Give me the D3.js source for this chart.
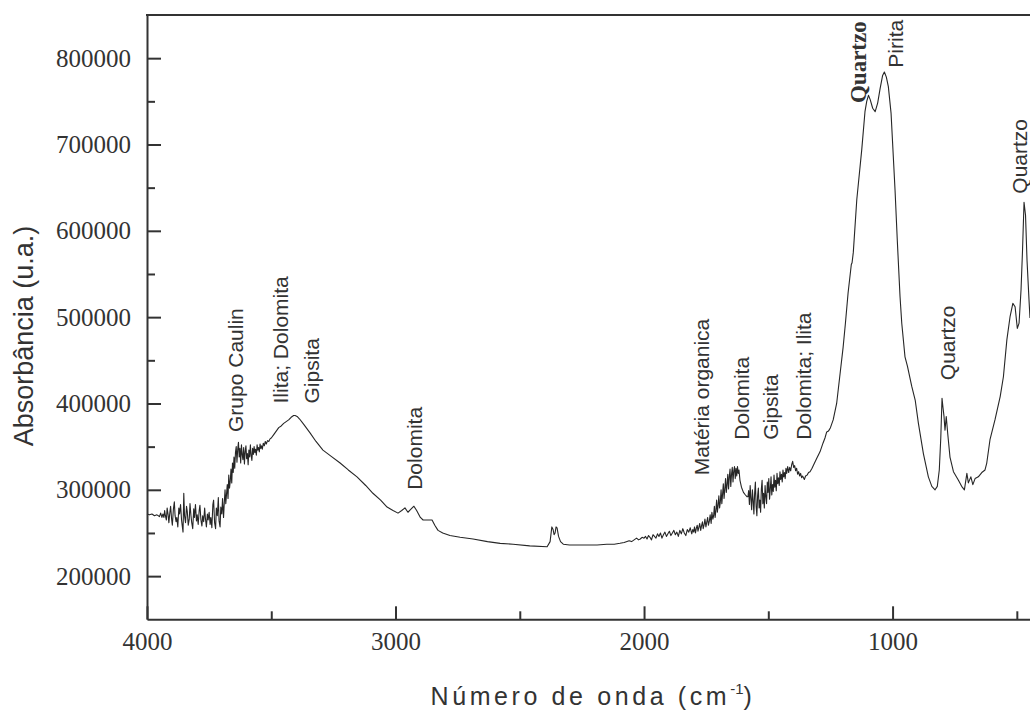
<!DOCTYPE html>
<html><head><meta charset="utf-8">
<script src="https://cdn.jsdelivr.net/npm/d3@7"></script>
<style>body{margin:0;background:#fff} svg{display:block}</style>
</head><body><svg id="c" width="1030" height="711"></svg>
<script>
// Spectrum segments: [wavenumber (cm-1), absorbance (thousands u.a.)]
const segBaseline = [[4000,272],[3990,271],[3980,272],[3970,270],[3960,271],[3950,269],[3945,273],[3940,268],[3936,272],[3932,268],[3929,276],[3926,270],[3922,265],[3919,279],[3915,271],[3912,262],[3908,274],[3905,281],[3901,266],[3898,259],[3894,277],[3890,286],[3887,270],[3883,263],[3880,268],[3876,257],[3872,279],[3869,272],[3865,283],[3861,265],[3858,258],[3855,251],[3852,296],[3849,270],[3845,262],[3841,281],[3838,275],[3834,259],[3830,266],[3827,284],[3823,270],[3820,262],[3816,255],[3812,278],[3809,268],[3805,283],[3801,264],[3798,271],[3794,260],[3790,276],[3787,282],[3783,265],[3779,258],[3776,270],[3772,263],[3768,279],[3765,267],[3761,257],[3757,272],[3754,265],[3750,274],[3746,260],[3743,268],[3739,256],[3735,283],[3732,288],[3728,262],[3724,255],[3721,279],[3717,270],[3713,291],[3710,264],[3706,257],[3703,280]];
const segHydroxyl = [[3699,272],[3696,290],[3692,268],[3689,285],[3686,300],[3683,284],[3680,295],[3677,306],[3674,290],[3671,317],[3668,302],[3665,310],[3662,324],[3659,308],[3656,331],[3653,320],[3650,338],[3647,325],[3644,343],[3641,350],[3638,332],[3635,347],[3632,355],[3629,338],[3626,348],[3623,331],[3620,352],[3617,341],[3614,335],[3611,349],[3608,330],[3605,344],[3602,351],[3599,336],[3596,342],[3593,329],[3590,346],[3587,338],[3584,352],[3581,340],[3578,334],[3575,348],[3572,341],[3569,350],[3566,343],[3563,347],[3560,340],[3557,352],[3554,346],[3551,349],[3548,344],[3545,353],[3542,348],[3539,351],[3536,347],[3532,354],[3528,351],[3524,356],[3520,353],[3515,357],[3510,356],[3505,359],[3500,360],[3490,364],[3480,368],[3470,372],[3460,374],[3450,377],[3440,379],[3430,381],[3420,384],[3410,386],[3404,386],[3396,385],[3386,382]];
const segDescent = [[3370,376],[3344,366],[3320,356],[3292,346],[3260,339],[3223,331],[3190,323],[3155,315],[3120,305],[3091,296],[3060,288],[3034,280],[3010,276],[2990,273],[2975,276],[2962,279],[2950,274],[2940,277],[2926,281],[2915,276],[2900,268],[2889,265],[2870,265],[2853,265],[2842,259],[2829,253],[2810,250],[2781,247],[2740,245],[2688,243],[2630,240],[2579,238],[2527,237],[2460,235],[2390,234]];
const segCO2 = [[2378,240],[2371,257],[2366,254],[2362,248],[2358,250],[2354,257],[2350,256],[2344,246],[2336,240],[2325,237],[2300,236],[2278,236],[2240,236],[2189,236],[2150,237],[2120,237],[2097,238],[2080,239],[2060,241],[2050,240],[2040,242],[2030,244],[2022,242],[2015,243],[2008,245],[2000,244],[1994,246],[1988,243],[1982,247],[1976,245],[1970,242],[1964,248],[1958,246],[1952,244],[1946,249],[1940,246],[1934,250],[1928,244],[1922,248],[1916,251],[1910,246],[1904,249],[1898,252],[1892,247],[1886,250],[1880,253],[1874,248],[1868,251],[1862,246],[1856,253],[1850,249],[1844,255],[1838,250],[1832,247],[1826,254],[1820,251],[1814,256],[1808,249]];
const segOrganic = [[1804,254],[1800,251],[1797,257],[1793,250],[1790,255],[1786,259],[1783,252],[1779,257],[1776,261],[1772,253],[1769,258],[1765,263],[1762,255],[1758,260],[1755,266],[1751,257],[1748,262],[1744,268],[1741,259],[1737,264],[1734,271],[1730,261],[1727,274],[1723,266],[1720,270],[1717,281],[1714,268],[1711,276],[1708,288],[1705,274],[1702,282],[1699,293],[1696,279],[1693,286],[1690,300],[1687,284],[1684,295],[1681,307],[1678,290],[1675,301],[1672,313],[1669,297],[1666,306],[1663,318],[1660,301],[1657,315],[1654,324],[1651,304],[1648,318],[1645,326],[1642,309],[1639,322],[1636,327],[1633,313],[1630,325],[1627,316],[1624,327],[1621,319],[1618,323],[1614,311],[1608,303],[1600,297],[1592,294],[1586,292]];
const segCarbonate = [[1582,292],[1579,299],[1576,283],[1573,305],[1570,290],[1567,277],[1564,300],[1561,288],[1558,272],[1555,296],[1552,309],[1549,281],[1546,270],[1543,293],[1540,302],[1537,279],[1534,288],[1531,274],[1528,301],[1525,311],[1522,284],[1519,296],[1516,279],[1513,305],[1510,292],[1507,284],[1504,309],[1501,297],[1498,313],[1495,289],[1492,301],[1489,315],[1486,294],[1483,306],[1480,298],[1477,317],[1474,303],[1471,311],[1468,299],[1465,319],[1462,307],[1459,314],[1456,305],[1453,321],[1450,312],[1447,318],[1444,309],[1441,323],[1438,315],[1435,320],[1432,313],[1429,325],[1426,319],[1422,327],[1418,320],[1414,326],[1410,322],[1406,329],[1402,333],[1398,326],[1394,328],[1390,322],[1386,325],[1382,318],[1378,321],[1374,316],[1370,319],[1366,314],[1362,316],[1355,312],[1350,316],[1344,317],[1338,320],[1332,321],[1324,325],[1316,330],[1304,337],[1292,344],[1280,354],[1272,360],[1265,367],[1258,368],[1250,372],[1239,381],[1225,400],[1211,435],[1199,465],[1190,492],[1179,528],[1166,561],[1163,563],[1158,575]];
const segSilicate = [[1144,636],[1124,694],[1111,738],[1104,750],[1097,757],[1090,752],[1080,742],[1070,738],[1060,748],[1050,765],[1040,780],[1033,784],[1025,778],[1017,767],[1006,736],[990,647],[981,589],[970,524],[963,493],[950,454],[940,443],[923,420],[909,404],[896,377],[876,342],[856,315],[842,304],[829,300],[820,304],[812,323],[806,360],[801,406],[797,395],[793,385],[789,369],[784,385],[778,365],[769,338],[755,321],[735,311],[722,304],[711,300],[701,319],[695,308],[685,315],[677,306],[668,313],[655,315],[641,320],[628,323],[621,331],[608,358],[588,381],[567,408],[554,431],[540,474],[527,501],[516,516],[507,512],[498,487],[491,493],[483,532],[477,578],[471,633],[465,618],[459,566],[451,520],[447,499]];

const xMajorTicks = [4000, 3000, 2000, 1000];
const xMinorTicks = [3500, 2500, 1500, 500];
const yMajorTicks = [200000, 300000, 400000, 500000, 600000, 700000, 800000];
const yMinorTicks = [250000, 350000, 450000, 550000, 650000, 750000];

// Annotation anchors: wavenumber and absorbance where each rotated label starts
const annotations = [
  {text: "Grupo Caulin", wn: 3614, abs: 367000},
  {text: "Ilita; Dolomita", wn: 3433, abs: 400000},
  {text: "Gipsita", wn: 3308, abs: 400000},
  {text: "Dolomita", wn: 2893, abs: 300000},
  {text: "Matéria organica", wn: 1738, abs: 317000},
  {text: "Dolomita", wn: 1577, abs: 358000},
  {text: "Gipsita", wn: 1461, abs: 358000},
  {text: "Dolomita; Ilita", wn: 1328, abs: 358000},
  {text: "Quartzo", wn: 1107, abs: 748000, bold: true},
  {text: "Pirita", wn: 958, abs: 789000},
  {text: "Quartzo", wn: 749, abs: 427000},
  {text: "Quartzo", wn: 459, abs: 643000}
];

const spectrum = [].concat(segBaseline, segHydroxyl, segDescent, segCO2, segOrganic, segCarbonate, segSilicate)
  .map(d => ({wn: d[0], abs: d[1] * 1000}));

const svg = d3.select("#c");
const L = 147, R = 1030, T = 15, B = 619.3;
const x = d3.scaleLinear().domain([4000, 447]).range([L, R]);
const y = d3.scaleLinear().domain([150000, 850000]).range([B, T]);
const axisColor = "#333";
const serif = "'Liberation Serif','Times New Roman',serif";
const sans = "'Liberation Sans',Arial,sans-serif";

// spectrum line
svg.append("path").datum(spectrum)
  .attr("fill", "none").attr("stroke", "#262626").attr("stroke-width", 1.1)
  .attr("stroke-linejoin", "round")
  .attr("d", d3.line().x(d => x(d.wn)).y(d => y(d.abs)));

function styleAxis(g) {
  g.selectAll("path.domain").attr("stroke", axisColor).attr("stroke-width", 2);
  g.selectAll(".tick line").attr("stroke", axisColor).attr("stroke-width", 2);
  g.selectAll(".tick text").attr("fill", axisColor).style("font-family", serif).style("font-size", "25px");
}

// x axis
const gx = svg.append("g").attr("transform", `translate(0,${B})`)
  .call(d3.axisBottom(x).tickValues(xMajorTicks).tickSize(-13).tickSizeOuter(0).tickPadding(13).tickFormat(d3.format("d")));
styleAxis(gx);
const gxm = svg.append("g").attr("transform", `translate(0,${B})`)
  .call(d3.axisBottom(x).tickValues(xMinorTicks).tickSize(-8).tickSizeOuter(0).tickFormat(""));
gxm.select("path.domain").remove(); styleAxis(gxm);

// y axis
const gy = svg.append("g").attr("transform", `translate(${L},0)`)
  .call(d3.axisLeft(y).tickValues(yMajorTicks).tickSize(-14).tickSizeOuter(0).tickPadding(16).tickFormat(d3.format("d")));
styleAxis(gy);
const gym = svg.append("g").attr("transform", `translate(${L},0)`)
  .call(d3.axisLeft(y).tickValues(yMinorTicks).tickSize(-8).tickSizeOuter(0).tickFormat(""));
gym.select("path.domain").remove(); styleAxis(gym);

// top frame line
svg.append("line").attr("x1", L - 1).attr("x2", R).attr("y1", T).attr("y2", T)
  .attr("stroke", axisColor).attr("stroke-width", 2);

// annotations
svg.append("g").selectAll("text").data(annotations).join("text")
  .attr("transform", d => `translate(${x(d.wn)},${y(d.abs)}) rotate(-90)`)
  .attr("text-anchor", "start")
  .style("font-family", d => d.bold ? serif : sans)
  .style("font-weight", d => d.bold ? "bold" : "normal")
  .style("font-size", d => d.bold ? "23px" : "21px")
  .attr("fill", "#333")
  .text(d => d.text);

// axis titles
const xt = svg.append("text").attr("x", 593).attr("y", 705).attr("text-anchor", "middle")
  .style("font-family", sans).style("font-size", "25px").style("letter-spacing", "3.6px").attr("fill", "#333");
xt.append("tspan").text("Número de onda (cm");
xt.append("tspan").attr("dy", -11).style("font-size", "15px").style("letter-spacing", "0px").text("-1");
xt.append("tspan").attr("dy", 11).text(")");

svg.append("text").attr("transform", "translate(33,336) rotate(-90)").attr("text-anchor", "middle")
  .style("font-family", sans).style("font-size", "27px").attr("fill", "#333")
  .text("Absorbância (u.a.)");
</script></body></html>
